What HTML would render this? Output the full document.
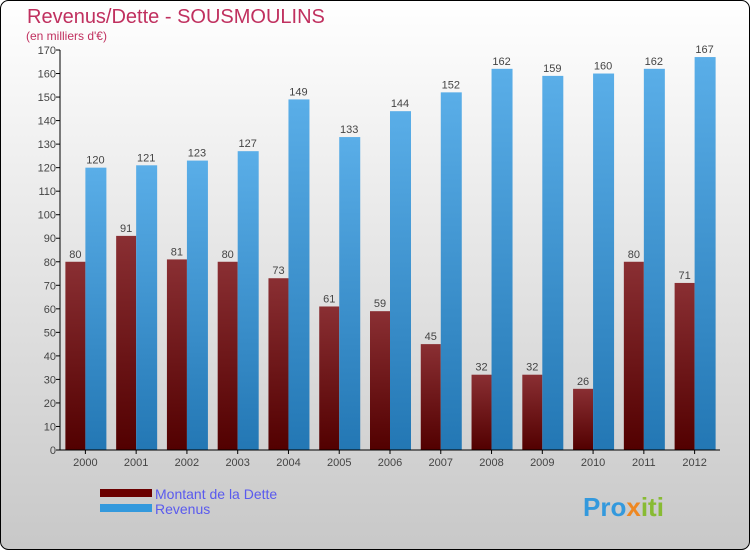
<!DOCTYPE html>
<html><head><meta charset="utf-8"><style>
body{margin:0;width:750px;height:550px;overflow:hidden;font-family:"Liberation Sans",sans-serif}
</style></head><body>
<svg id="c" width="750" height="550" xmlns="http://www.w3.org/2000/svg">
<defs>
<linearGradient id="bg" x1="0" y1="0" x2="0" y2="1"><stop offset="0" stop-color="#ffffff"/><stop offset="1" stop-color="#c8c8c8"/></linearGradient>
<linearGradient id="gd" x1="0" y1="0" x2="0" y2="1"><stop offset="0" stop-color="#8a2f33"/><stop offset="1" stop-color="#520000"/></linearGradient>
<linearGradient id="gr" x1="0" y1="0" x2="0" y2="1"><stop offset="0" stop-color="#5aaee8"/><stop offset="1" stop-color="#2377b4"/></linearGradient>
</defs>
<rect x="0.5" y="0.5" width="749" height="549" rx="8" fill="url(#bg)" stroke="#000"/>
<text x="27" y="23" font-size="20" fill="#c0305f">Revenus/Dette - SOUSMOULINS</text>
<text x="26" y="40" font-size="12" fill="#c0305f">(en milliers d'€)</text>
<g id="plot"></g>
<rect x="100" y="489" width="52" height="8" fill="#6b0000"/>
<text x="155" y="499" font-size="14" fill="#5a5aee">Montant de la Dette</text>
<rect x="100" y="504" width="52" height="8" fill="#3399dd"/>
<text x="155" y="514" font-size="14" fill="#5a5aee">Revenus</text>
<text x="583" y="516" font-size="26" font-weight="bold" fill="#3399dd">Pro<tspan fill="#ee8822">x</tspan><tspan fill="#88bb33">iti</tspan></text>
</svg>
<script>
const years=["2000","2001","2002","2003","2004","2005","2006","2007","2008","2009","2010","2011","2012"];
const dette=[80,91,81,80,73,61,59,45,32,32,26,80,71];
const revenus=[120,121,123,127,149,133,144,152,162,159,160,162,167];
const yTicks=[0,10,20,30,40,50,60,70,80,90,100,110,120,130,140,150,160,170];
const NS="http://www.w3.org/2000/svg";
const g=document.getElementById("plot");
const x0=60,x1=720,yb=450,yt=50,ymax=170;
const y=v=>yb-(v/ymax)*(yb-yt);
const gw=(x1-x0)/years.length;
function mk(t,a){const e=document.createElementNS(NS,t);for(const k in a)e.setAttribute(k,a[k]);g.appendChild(e);return e;}
yTicks.forEach(v=>{
 const l=mk("line",{x1:x0-4,x2:x0,y1:y(v),y2:y(v),stroke:"#000"});
 
 
 const t=mk("text",{x:x0-4,y:y(v)+4,"font-size":11,fill:"#444","text-anchor":"end"});
 t.textContent=v;
 
 
});
years.forEach((yr,i)=>{
 const c=x0+gw*(i+0.5);
 const bd=mk("rect",{x:c-20,y:y(dette[i]),width:20,height:yb-y(dette[i]),fill:"url(#gd)"});
 
 
 const br=mk("rect",{x:c,y:y(revenus[i]),width:21,height:yb-y(revenus[i]),fill:"url(#gr)"});
 
 
 const td=mk("text",{x:c-10,y:y(dette[i])-4,"font-size":11,fill:"#444","text-anchor":"middle"});
 td.textContent=dette[i];
 
 
 const tr=mk("text",{x:c+10,y:y(revenus[i])-4,"font-size":11,fill:"#444","text-anchor":"middle"});
 tr.textContent=revenus[i];
 
 
 const xt=mk("line",{x1:c,x2:c,y1:yb,y2:yb+4,stroke:"#000"});
 
 
 const xl=mk("text",{x:c,y:yb+16,"font-size":11,fill:"#444","text-anchor":"middle"});
 xl.textContent=yr;
 
 
});
const ax=mk("line",{x1:x0,x2:x0,y1:yt,y2:yb,stroke:"#000"});


const bx=mk("line",{x1:x0,x2:x1,y1:yb,y2:yb,stroke:"#000"});


</script>
</body></html>
